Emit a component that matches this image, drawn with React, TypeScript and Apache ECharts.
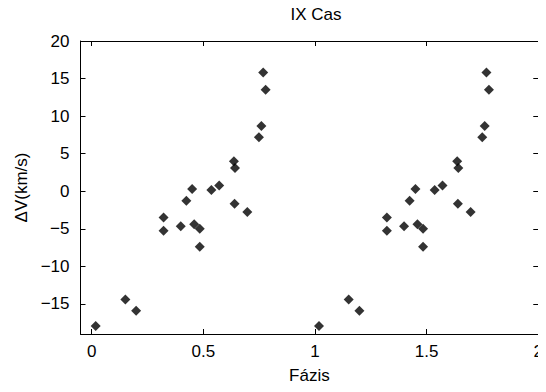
import React, { useEffect, useRef } from "react";
import * as echarts from "echarts";

const chartTitle = "IX Cas";
const xTitle = "Fázis";
const yTitle = "ΔV(km/s)";

// phase of each observation (first cycle); plotted again at phase + 1
const phases = [
  0.018, 0.151, 0.199, 0.322, 0.322, 0.399, 0.424, 0.45, 0.459, 0.484, 0.484,
  0.536, 0.571, 0.637, 0.642, 0.64, 0.697, 0.749, 0.76, 0.768, 0.779,
];
const dv = [
  -17.95, -14.4, -15.9, -3.5, -5.25, -4.67, -1.25, 0.3, -4.4, -4.98, -7.4,
  0.18, 0.76, 4.0, 3.1, -1.65, -2.75, 7.2, 8.7, 15.8, 13.5,
];
const cycles = [0, 1];

const xTicks = [0, 0.5, 1, 1.5, 2];
const yTicks = [-15, -10, -5, 0, 5, 10, 15, 20];

const FONT = "Liberation Sans";
const FS = 17;

export default function App() {
  const ref = useRef<HTMLDivElement>(null);
  useEffect(() => {
    if (!ref.current) return;
    const chart = echarts.init(ref.current, undefined, { renderer: "svg" });
    const points: number[][] = [];
    cycles.forEach((c) => {
      phases.forEach((p, i) => points.push([p + c, dv[i]]));
    });
    const lineStyle = { color: "#000", width: 1 };
    const tickBase = {
      show: true,
      inside: true,
      length: 5,
      lineStyle: { color: "#000", width: 1 },
    };
    chart.setOption({
      animation: false,
      backgroundColor: "#fff",
      title: {
        text: chartTitle,
        left: 311,
        top: 1,
        textAlign: "center",
        textStyle: { fontFamily: FONT, fontSize: FS, fontWeight: "normal", color: "#000" },
      },
      grid: { left: 80.5, right: 5.5, top: 41, bottom: 58, containLabel: false },
      xAxis: [
        {
          type: "value",
          min: -0.05,
          max: 2,
          position: "bottom",
          name: xTitle,
          nameLocation: "middle",
          nameGap: 33,
          nameTextStyle: { fontFamily: FONT, fontSize: FS, color: "#000" },
          axisLine: { show: true, onZero: false, lineStyle },
          axisTick: { ...tickBase, customValues: xTicks },
          axisLabel: {
            customValues: xTicks,
            fontFamily: FONT,
            fontSize: FS,
            color: "#000",
            margin: 9,
            formatter: (v: number) => String(v),
          },
          splitLine: { show: false },
        },
        {
          type: "value",
          min: -0.05,
          max: 2,
          position: "top",
          axisLine: { show: true, onZero: false, lineStyle },
          axisTick: { ...tickBase, customValues: xTicks },
          axisLabel: { show: false },
          splitLine: { show: false },
        },
      ],
      yAxis: [
        {
          type: "value",
          min: -19,
          max: 20,
          position: "left",
          name: yTitle,
          nameLocation: "middle",
          nameGap: 51,
          nameTextStyle: { fontFamily: FONT, fontSize: FS, color: "#000" },
          axisLine: { show: true, onZero: false, lineStyle },
          axisTick: { ...tickBase, customValues: yTicks },
          axisLabel: {
            customValues: yTicks,
            fontFamily: FONT,
            fontSize: FS,
            color: "#000",
            margin: 11,
            formatter: (v: number) => (v < 0 ? "\u2212" + Math.abs(v) : String(v)),
          },
          splitLine: { show: false },
        },
        {
          type: "value",
          min: -19,
          max: 20,
          position: "right",
          axisLine: { show: true, onZero: false, lineStyle },
          axisTick: { ...tickBase, customValues: yTicks },
          axisLabel: { show: false },
          splitLine: { show: false },
        },
      ],
      series: [
        {
          type: "scatter",
          xAxisIndex: 0,
          yAxisIndex: 0,
          data: points,
          symbol: "diamond",
          symbolSize: 10,
          itemStyle: { color: "#000" },
        },
      ],
    });
    return () => chart.dispose();
  }, []);
  return <div ref={ref} style={{ width: 546, height: 392, margin: -8 }} />;
}
